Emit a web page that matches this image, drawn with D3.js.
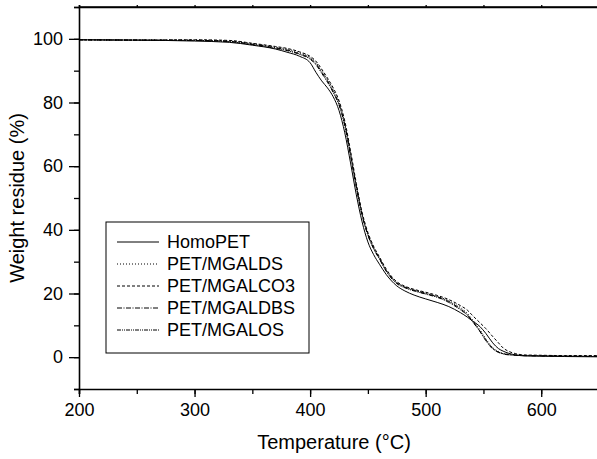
<!DOCTYPE html>
<html><head><meta charset="utf-8">
<script src="https://cdn.jsdelivr.net/npm/d3@7"></script>
<style>body{margin:0;background:#fff}svg{display:block}text{font-family:Arial,"Liberation Sans",sans-serif;fill:#000}</style>
</head><body><svg id="c" width="597" height="459"></svg>
<script>
const temps = [200,250,300,330,350,370,380,391,400,405,410,415,420,425,430,435,440,445,450,455,460,466,475,482,490,500,510,520,530,536,540,547,552,558,563,567,572,578,585,600,620,650];
const homoPET = [99.7,99.6,99.3,98.9,98.0,96.8,95.8,94.5,92.5,89.5,86.8,84.6,81.8,77.5,70.5,61,51,42.5,36.2,32.2,29.2,25.9,22.4,20.8,19.5,18.3,17.2,15.9,14.0,12.6,11.5,9.6,7.5,4.5,2.7,1.9,1.2,0.7,0.4,0.3,0.2,0.1];
const mgalDS = [99.7,99.6,99.6,99.3,98.5,97.4,96.8,95.6,94.2,92.6,90.0,87.2,84.0,80.0,73.5,64,54,45,38.8,34.5,31.2,27.3,23.5,22.1,21.1,20.1,19.1,17.7,15.6,13.8,12.0,8.6,5.8,3.0,1.8,1.2,0.9,0.7,0.6,0.5,0.4,0.3];
const mgalCO3 = [99.7,99.6,99.7,99.5,98.6,97.6,97.0,95.9,94.5,93.0,90.5,87.7,84.6,80.6,74.2,64.8,54.6,45.5,39.2,34.8,31.5,27.6,23.7,22.3,21.3,20.4,19.4,18.1,16.2,14.8,13.3,10.8,9.0,6.5,4.5,2.9,1.8,1.1,0.7,0.6,0.5,0.5];
const mgalDBS = [99.7,99.6,99.5,99.2,98.3,97.2,96.5,95.3,93.9,92.2,89.6,86.8,83.5,79.5,73.0,63.6,53.6,44.7,38.5,34.2,31.0,27.1,23.3,22.0,21.0,20.0,19.0,17.5,15.2,13.4,11.6,8.2,5.5,2.8,1.6,1.1,0.8,0.6,0.5,0.4,0.3,0.2];
const mgalOS = [99.7,99.6,99.5,99.1,98.2,97.0,96.3,95.1,93.6,91.9,89.2,86.4,83.1,79.2,72.7,63.3,53.3,44.5,38.3,34.0,30.8,26.9,23.1,21.8,20.8,19.8,18.8,17.2,14.9,13.2,11.4,8.0,5.2,2.6,1.5,1.0,0.7,0.6,0.5,0.4,0.3,0.2];
const seriesNames = ["HomoPET","PET/MGALDS","PET/MGALCO3","PET/MGALDBS","PET/MGALOS"];
const seriesValues = [homoPET, mgalDS, mgalCO3, mgalDBS, mgalOS];
const dashes = [null, "1,2", "3,2", "5,1.5,1,1.5", "4,1,1,1,1,1"];
const xTicks = [200,300,400,500,600];
const yTicks = [0,20,40,60,80,100];

const svg = d3.select("#c");
const L = 79, R = 599, T = 7, B = 389;
const x = d3.scaleLinear().domain([200,650]).range([L,R]);
const y = d3.scaleLinear().domain([-10,110]).range([B,T]);

svg.append("line").attr("x1",L).attr("x2",R+5).attr("y1",T).attr("y2",T).attr("stroke","#000").attr("stroke-width",1.6);

const gx = svg.append("g").attr("transform",`translate(0,${B})`);
gx.call(d3.axisBottom(x).tickValues(d3.range(200,651,50)).tickSize(5).tickFormat(""));
const gxM = svg.append("g").attr("transform",`translate(0,${B})`);
gxM.call(d3.axisBottom(x).tickValues(xTicks).tickSize(8).tickPadding(6).tickFormat(d3.format("d")));
const gy = svg.append("g").attr("transform",`translate(${L},0)`);
gy.call(d3.axisLeft(y).tickValues(d3.range(-10,111,10)).tickSize(5).tickFormat(""));
const gyM = svg.append("g").attr("transform",`translate(${L},0)`);
gyM.call(d3.axisLeft(y).tickValues(yTicks).tickSize(10).tickPadding(6).tickFormat(d3.format("d")));
svg.append("g").attr("transform",`translate(0,${T})`)
  .call(d3.axisTop(x).tickValues(d3.range(200,651,50)).tickSize(2).tickFormat(""));
svg.selectAll(".domain").attr("stroke","#000").attr("stroke-width",1.6);
svg.selectAll(".tick line").attr("stroke","#000").attr("stroke-width",1.3);
svg.selectAll(".tick text").attr("font-size",18).attr("font-family","Arial, Liberation Sans, sans-serif");
gxM.select(".domain").remove(); gyM.select(".domain").remove();

const line = d3.line().x(d=>x(d[0])).y(d=>y(d[1])).curve(d3.curveMonotoneX);
svg.append("clipPath").attr("id","pc").append("rect").attr("x",L).attr("y",T).attr("width",R-L).attr("height",B-T);
const cg = svg.append("g").attr("clip-path","url(#pc)");
seriesValues.forEach((vals,i)=>{
  cg.append("path").datum(temps.map((t,j)=>[t,vals[j]]))
    .attr("d",line).attr("fill","none").attr("stroke","#000").attr("stroke-width",1)
    .attr("stroke-dasharray",dashes[i]);
});

const lg = svg.append("g");
lg.append("rect").attr("x",106).attr("y",222).attr("width",203).attr("height",131).attr("fill","#fff").attr("stroke","#000").attr("stroke-width",1);
seriesNames.forEach((n,i)=>{
  const yy = 242 + i*22;
  lg.append("line").attr("x1",117).attr("x2",159).attr("y1",yy).attr("y2",yy).attr("stroke","#000").attr("stroke-width",1).attr("stroke-dasharray",dashes[i]);
  lg.append("text").attr("x",167).attr("y",yy).attr("dy","0.35em").attr("font-size",18).text(n);
});

svg.append("text").attr("x",334).attr("y",449).attr("text-anchor","middle").attr("font-size",20).text("Temperature (°C)");
svg.append("text").attr("transform",`translate(24,198) rotate(-90)`).attr("text-anchor","middle").attr("font-size",20).text("Weight residue (%)");
</script></body></html>
